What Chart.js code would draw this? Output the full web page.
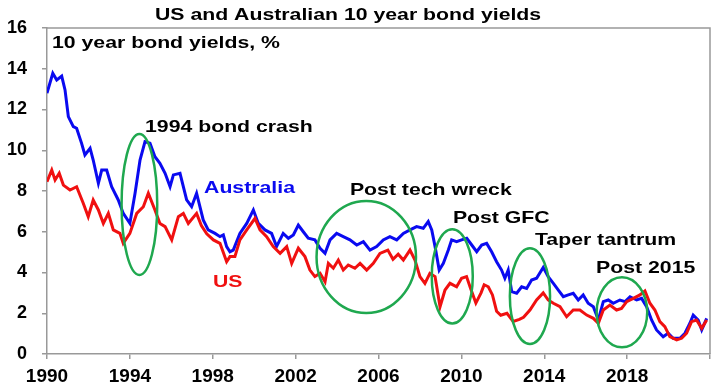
<!DOCTYPE html>
<html lang="en">
<head>
    <meta charset="UTF-8">
    <title>US and Australian 10 year bond yields</title>
    <script src="https://cdn.jsdelivr.net/npm/chart.js"></script>
    <style>
        body { margin: 0; background: #fff; }
        .wrap { width: 720px; height: 392px; }
    </style>
</head>
<body>
    <div class="wrap"><canvas id="bond-chart"></canvas></div>

    <script>
        // 10 year bond yields, %
        const ausYears = [1990.0, 1990.28, 1990.47, 1990.71, 1990.87, 1991.03, 1991.27, 1991.43, 1991.67, 1991.83,
            1992.08, 1992.23, 1992.48, 1992.64, 1992.88, 1993.12, 1993.44, 1993.68, 1994.0, 1994.25,
            1994.49, 1994.73, 1994.97, 1995.21, 1995.45, 1995.7, 1995.94, 1996.1, 1996.42, 1996.74,
            1996.98, 1997.22, 1997.54, 1997.78, 1998.11, 1998.35, 1998.51, 1998.67, 1998.83, 1998.99,
            1999.31, 1999.64, 1999.96, 2000.2, 2000.52, 2000.84, 2001.08, 2001.4, 2001.65, 2001.89,
            2002.13, 2002.37, 2002.61, 2002.93, 2003.18, 2003.42, 2003.66, 2003.98, 2004.3, 2004.62,
            2004.95, 2005.27, 2005.59, 2005.91, 2006.23, 2006.55, 2006.88, 2007.2, 2007.52, 2007.84,
            2008.16, 2008.4, 2008.57, 2008.73, 2008.93, 2009.13, 2009.37, 2009.53, 2009.77, 2010.01,
            2010.26, 2010.5, 2010.74, 2010.98, 2011.22, 2011.46, 2011.7, 2011.94, 2012.1, 2012.26,
            2012.43, 2012.67, 2012.91, 2013.15, 2013.39, 2013.63, 2013.95, 2014.19, 2014.44, 2014.68,
            2014.92, 2015.16, 2015.4, 2015.64, 2015.88, 2016.12, 2016.37, 2016.61, 2016.85, 2017.09,
            2017.33, 2017.65, 2017.9, 2018.14, 2018.46, 2018.7, 2018.94, 2019.18, 2019.42, 2019.74,
            2019.98, 2020.22, 2020.55, 2020.79, 2021.03, 2021.19, 2021.43, 2021.6, 2021.84];
        const ausYields = [12.8, 13.78, 13.45, 13.64, 12.96, 11.65, 11.16, 11.08, 10.34, 9.77,
            10.1, 9.52, 8.38, 9.03, 9.03, 8.21, 7.56, 6.9, 6.41, 7.89,
            9.52, 10.42, 10.34, 9.68, 9.36, 8.87, 8.21, 8.79, 8.87, 7.56,
            7.23, 7.89, 6.58, 6.09, 5.92, 5.76, 5.84, 5.27, 5.02, 5.1,
            5.92, 6.41, 7.07, 6.41, 6.09, 5.92, 5.27, 5.92, 5.68, 5.84,
            6.33, 6.0, 5.68, 5.6, 5.19, 4.94, 5.6, 5.92, 5.76, 5.6,
            5.35, 5.51, 5.1, 5.27, 5.6, 5.76, 5.6, 5.92, 6.09, 6.25,
            6.17, 6.5, 6.09, 5.27, 4.12, 4.45, 5.1, 5.6, 5.51, 5.6,
            5.68, 5.35, 5.02, 5.35, 5.43, 5.02, 4.53, 4.12, 3.72, 4.12,
            3.06, 2.98, 3.3, 3.22, 3.63, 3.72, 4.25, 3.8, 3.47, 3.14,
            2.81, 2.9, 2.98, 2.65, 2.9, 2.49, 2.32, 1.67, 2.57, 2.65,
            2.49, 2.65, 2.57, 2.81, 2.65, 2.73, 2.32, 1.67, 1.18, 0.85,
            1.02, 0.77, 0.77, 1.02, 1.51, 1.91, 1.67, 1.18, 1.75];

        const usYears = [1990.0, 1990.23, 1990.39, 1990.59, 1990.79, 1991.11, 1991.43, 1991.75, 1991.99, 1992.23,
            1992.48, 1992.72, 1992.96, 1993.2, 1993.52, 1993.68, 1994.0, 1994.33, 1994.65, 1994.89,
            1995.21, 1995.45, 1995.7, 1996.02, 1996.34, 1996.58, 1996.82, 1997.22, 1997.45, 1997.71,
            1998.03, 1998.35, 1998.67, 1998.83, 1999.07, 1999.31, 1999.64, 2000.04, 2000.28, 2000.6,
            2000.92, 2001.25, 2001.57, 2001.81, 2002.13, 2002.45, 2002.69, 2002.93, 2003.18, 2003.42,
            2003.58, 2003.82, 2004.06, 2004.3, 2004.54, 2004.86, 2005.11, 2005.43, 2005.75, 2006.07,
            2006.45, 2006.7, 2006.95, 2007.2, 2007.52, 2007.76, 2008.0, 2008.24, 2008.48, 2008.73,
            2008.97, 2009.21, 2009.45, 2009.77, 2010.01, 2010.25, 2010.45, 2010.7, 2010.95, 2011.1,
            2011.3, 2011.5, 2011.7, 2011.9, 2012.2, 2012.5, 2012.8, 2013.0, 2013.31, 2013.63,
            2013.95, 2014.19, 2014.44, 2014.76, 2015.08, 2015.4, 2015.72, 2016.05, 2016.37, 2016.61,
            2016.85, 2017.17, 2017.49, 2017.73, 2017.98, 2018.3, 2018.62, 2018.86, 2019.1, 2019.34,
            2019.58, 2019.82, 2020.06, 2020.39, 2020.63, 2020.87, 2021.11, 2021.35, 2021.6, 2021.84];
        const usYields = [8.46, 9.03, 8.54, 8.87, 8.29, 8.05, 8.21, 7.4, 6.74, 7.56,
            7.07, 6.41, 6.9, 6.09, 5.92, 5.43, 5.92, 6.9, 7.23, 7.89,
            7.07, 6.41, 6.25, 5.6, 6.74, 6.9, 6.41, 6.9, 6.3, 5.9,
            5.6, 5.43, 4.53, 4.78, 4.78, 5.6, 6.09, 6.66, 6.09, 5.76,
            5.27, 4.94, 5.27, 4.45, 5.19, 4.78, 4.12, 3.8, 3.96, 3.55,
            4.45, 4.21, 4.61, 4.12, 4.37, 4.21, 4.45, 4.12, 4.45, 4.94,
            5.1, 4.65, 4.9, 4.61, 5.1, 4.61, 3.8, 3.47, 3.96, 3.8,
            2.32, 3.14, 3.47, 3.3, 3.72, 3.8, 3.2, 2.5, 3.0, 3.4,
            3.3, 2.9, 2.1, 1.9, 2.0, 1.6, 1.7, 1.8, 2.16, 2.65,
            3.0, 2.65, 2.49, 2.32, 1.83, 2.16, 2.16, 1.91, 1.75, 1.51,
            2.16, 2.4, 2.16, 2.24, 2.57, 2.73, 2.9, 3.1, 2.49, 2.16,
            1.59, 1.34, 0.85, 0.69, 0.77, 1.02, 1.59, 1.67, 1.26, 1.67];

        const yearTicks = [1990, 1994, 1998, 2002, 2006, 2010, 2014, 2018, 2022];

        // green rings: centre year, centre yield, half width (years), half height (%)
        const ringYears = [1994.46, 2005.41, 2009.56, 2013.31, 2017.75];
        const ringYields = [7.34, 4.76, 3.81, 2.84, 2.05];
        const ringHalfW = [0.86, 2.4, 0.99, 0.97, 1.22];
        const ringHalfH = [3.46, 2.75, 2.31, 2.35, 1.72];

        // text notes placed in data units (left edge, baseline)
        const noteText = ['1994 bond crash', 'Australia', 'US', 'Post tech wreck', 'Post GFC', 'Taper tantrum', 'Post 2015'];
        const noteYears = [1994.73, 1997.58, 1998.01, 2004.62, 2009.59, 2013.55, 2016.5];
        const noteYields = [10.9, 7.9, 3.29, 7.8, 6.43, 5.35, 3.98];
        const noteColors = ['#000', '#0a0af0', '#f01010', '#000', '#000', '#000', '#000'];

        const toPoints = (xs, ys) => xs.map((x, i) => ({ x: x, y: ys[i] }));

        function stretchText(ctx, text, x, y, color) {
            ctx.save();
            ctx.translate(x, y);
            ctx.scale(1.25, 1);
            ctx.fillStyle = color;
            ctx.fillText(text, 0, 0);
            ctx.restore();
        }

        const extras = {
            id: 'extras',
            afterDatasetsDraw(chart) {
                const ctx = chart.ctx;
                const xs = chart.scales.x;
                const ys = chart.scales.y;
                const a = chart.chartArea;

                // frame on top and right
                ctx.save();
                ctx.strokeStyle = '#999';
                ctx.lineWidth = 1.5;
                ctx.beginPath();
                ctx.moveTo(a.left, a.top);
                ctx.lineTo(a.right, a.top);
                ctx.lineTo(a.right, a.bottom);
                ctx.stroke();

                // rings
                ctx.strokeStyle = '#1fa84f';
                ctx.lineWidth = 2.5;
                ringYears.forEach((yr, i) => {
                    const cx = xs.getPixelForValue(yr);
                    const cy = ys.getPixelForValue(ringYields[i]);
                    const rx = xs.getPixelForValue(yr + ringHalfW[i]) - cx;
                    const ry = cy - ys.getPixelForValue(ringYields[i] + ringHalfH[i]);
                    ctx.beginPath();
                    ctx.ellipse(cx, cy, rx, ry, 0, 0, Math.PI * 2);
                    ctx.stroke();
                });

                // texts
                ctx.font = 'bold 17px Arial, "Liberation Sans", sans-serif';
                ctx.textBaseline = 'alphabetic';
                ctx.textAlign = 'left';
                stretchText(ctx, 'US and Australian 10 year bond yields', 155, 20, '#000');
                stretchText(ctx, '10 year bond yields, %', a.left + 5, 48, '#000');
                noteText.forEach((t, i) => {
                    stretchText(ctx, t, xs.getPixelForValue(noteYears[i]), ys.getPixelForValue(noteYields[i]), noteColors[i]);
                });
                ctx.restore();
            }
        };

        const ctx = document.getElementById('bond-chart').getContext('2d');
        new Chart(ctx, {
            type: 'line',
            data: {
                datasets: [{
                    label: 'US',
                    data: toPoints(usYears, usYields),
                    borderColor: '#f01010',
                    borderWidth: 3,
                    pointRadius: 0,
                    tension: 0
                }, {
                    label: 'Australia',
                    data: toPoints(ausYears, ausYields),
                    borderColor: '#0a0af0',
                    borderWidth: 3,
                    pointRadius: 0,
                    tension: 0
                }]
            },
            options: {
                responsive: true,
                maintainAspectRatio: false,
                animation: false,
                layout: { padding: { top: 28, right: 10, left: 0, bottom: 0 } },
                plugins: {
                    legend: { display: false },
                    tooltip: { enabled: false }
                },
                scales: {
                    x: {
                        type: 'linear',
                        min: 1990,
                        max: 2022,
                        afterBuildTicks: scale => {
                            scale.ticks = yearTicks.map(v => ({ value: v }));
                        },
                        afterFit: scale => { scale.height = 38; },
                        grid: { drawOnChartArea: false, tickLength: 5, color: '#999', lineWidth: 1.5 },
                        border: { color: '#999', width: 1.5 },
                        ticks: {
                            maxRotation: 0,
                            padding: 6,
                            color: '#000',
                            font: { family: 'Arial, "Liberation Sans", sans-serif', size: 19, weight: 'bold' },
                            callback: v => (v === 2022 ? '' : String(v))
                        }
                    },
                    y: {
                        min: 0,
                        max: 16,
                        afterFit: scale => { scale.width = 47; },
                        grid: { drawOnChartArea: false, tickLength: 5, color: '#999', lineWidth: 1.5 },
                        border: { color: '#999', width: 1.5 },
                        ticks: {
                            stepSize: 2,
                            padding: 15,
                            color: '#000',
                            font: { family: 'Arial, "Liberation Sans", sans-serif', size: 18, weight: 'bold' }
                        }
                    }
                }
            },
            plugins: [extras]
        });
    </script>
</body>
</html>
